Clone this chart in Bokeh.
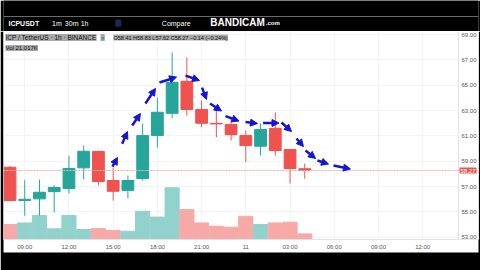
from bokeh.plotting import figure
from bokeh.layouts import column
from bokeh.models import (ColumnDataSource, Range1d, FixedTicker, NumeralTickFormatter,
                          Label, Span, Arrow, NormalHead)
from bokeh.core.properties import value
from bokeh.embed import file_html
from bokeh.resources import INLINE

# ---- data (hourly candles, ICP/USDT) ----
hours = list(range(21))
opens  = [58.53, 55.90, 56.03, 56.60, 56.85, 58.48, 59.77, 57.48, 56.70, 57.64, 61.03,
          62.79, 65.32, 63.09, 62.00, 61.90, 61.03, 60.19, 61.60, 59.93, 58.41]
highs  = [58.62, 57.50, 57.56, 57.10, 59.45, 60.24, 59.85, 58.50, 57.87, 61.98, 64.03,
          67.59, 67.20, 63.80, 63.00, 62.37, 61.43, 61.98, 62.87, 59.93, 58.83]
lows   = [55.85, 54.70, 54.71, 54.95, 56.45, 57.56, 57.10, 55.90, 56.06, 57.48, 60.09,
          62.38, 62.60, 61.69, 60.90, 60.64, 58.92, 59.45, 59.45, 57.24, 57.62]
closes = [55.90, 56.00, 56.55, 56.93, 58.43, 59.79, 57.40, 56.63, 57.48, 61.03, 62.87,
          65.24, 63.09, 62.00, 61.95, 61.10, 60.24, 61.50, 59.85, 58.43, 58.27]
volumes_k = [56, 62, 90, 40, 90, 37.5, 41, 34, 31, 106, 84, 194, 112, 62, 50, 46,
             87, 56, 62, 65, 21.017]

time_ticks = [1, 4, 7, 10, 13, 16, 19, 22, 25, 28]
time_labels = ["09:00", "12:00", "15:00", "18:00", "21:00", "11", "03:00", "06:00", "09:00", "12:00"]
price_ticks = [53, 55, 57, 59, 61, 63, 65, 67, 69]
last_price = 58.27

# toolbar texts of the screenshot header
toolbar_texts = ["ICPUSDT", "1m", "30m", "1h", "Compare", "BANDICAM", ".com"]

# annotation path (hand-drawn arrows): (x_start, y_start, x_end, y_end)
arrow_x0 = [6.95, 7.61, 8.29, 9.19, 10.14, 11.91, 13.03, 13.57, 14.62, 15.98, 17.17, 18.42, 19.44, 20.05, 20.86, 21.95]
arrow_y0 = [58.58, 60.38, 61.82, 63.56, 65.22, 65.77, 64.82, 63.56, 62.57, 62.10, 62.02, 62.06, 60.80, 59.85, 59.06, 58.66]
arrow_x1 = [7.29, 7.97, 8.85, 9.87, 11.30, 12.86, 13.33, 14.35, 15.54, 16.79, 18.25, 19.10, 19.91, 20.73, 21.61, 23.10]
arrow_y1 = [59.30, 61.35, 62.77, 64.75, 65.65, 65.38, 63.88, 62.97, 62.18, 61.98, 62.02, 61.35, 60.16, 59.22, 58.78, 58.39]

UP, DOWN = "#26a69a", "#ef5350"
UP_V, DOWN_V = "#92d2cc", "#f7a9a7"
FONT = "Liberation Sans"

# ---------------- header bar ----------------
top = figure(width=480, height=31, output_backend="svg", toolbar_location=None,
             x_range=Range1d(0, 480), y_range=Range1d(31, 0),
             x_axis_type=None, y_axis_type=None,
             min_border=0, min_border_left=0, min_border_right=0,
             min_border_top=0, min_border_bottom=0)
top.border_fill_color = "black"
top.background_fill_color = "black"
top.outline_line_color = None
top.grid.visible = False
top.hspan(y=[16], line_color="#6a6a6a", line_width=1)
tsrc = ColumnDataSource(dict(
    x=[5, 49, 62, 78, 160, 209, 265],
    y=[22.5, 22.5, 22.5, 22.5, 22.5, 21.5, 22.5],
    text=toolbar_texts,
    size=["7px", "7px", "7px", "7px", "7px", "10px", "6px"],
    style=["bold", "normal", "normal", "normal", "normal", "bold", "bold"],
))
top.text(x="x", y="y", text="text", source=tsrc, text_color="white",
         text_font=value(FONT), text_font_size="size", text_font_style="style",
         text_baseline="middle", text_align="left")
top.rect(x=[116], y=[22.5], width=[6], height=[7], fill_color="#1c2a5a", line_color=None)

# ---------------- main chart ----------------
up = [c >= o for o, c in zip(opens, closes)]
src = ColumnDataSource(dict(
    x=hours, open=opens, high=highs, low=lows, close=closes,
    top=[max(o, c) for o, c in zip(opens, closes)],
    bottom=[min(o, c) for o, c in zip(opens, closes)],
    vol=volumes_k,
    color=[UP if u else DOWN for u in up],
    vcolor=[UP_V if u else DOWN_V for u in up],
))

PXU = 14.739            # pixels per hour
X0 = -0.441             # left edge of the plot area
X_AXIS = X0 + 455 / PXU  # where the price scale starts
X1 = X0 + 475 / PXU      # right edge (price scale included)
Y0, Y1 = 52.82, 69.25

p = figure(width=480, height=239, output_backend="svg", toolbar_location=None,
           x_range=Range1d(X0, X1), y_range=Range1d(Y0, Y1),
           y_axis_location="right",
           min_border_top=0, min_border_bottom=31, min_border_left=3, min_border_right=2)
p.border_fill_color = "black"
p.background_fill_color = "white"
p.outline_line_color = None

p.extra_y_ranges = {"vol": Range1d(0, 780)}

# volume
p.vbar(x="x", top="vol", bottom=0, width=0.96, color="vcolor", source=src, y_range_name="vol")
# candles
p.segment(x0="x", y0="low", x1="x", y1="high", color="color", line_width=1, source=src)
p.vbar(x="x", top="top", bottom="bottom", width=0.8, fill_color="color", line_color="color", source=src)

# last price line
p.add_layout(Span(location=last_price, dimension="width", line_color="#e9b3b3",
                  line_width=1, line_dash="2 1"))

# axes
ax = p.xaxis[0]
ax.ticker = FixedTicker(ticks=time_ticks)
ax.major_label_overrides = {t: l for t, l in zip(time_ticks, time_labels)}
ay = p.yaxis[0]
ay.ticker = FixedTicker(ticks=price_ticks)
ay.formatter = NumeralTickFormatter(format="0.00")
ay.fixed_location = X_AXIS
for a in (ax, ay):
    a.major_label_text_font_size = "6px"
    a.major_label_text_color = "#555555"
    a.major_label_text_font = FONT
    a.major_tick_line_color = None
    a.minor_tick_line_color = None
    a.major_tick_out = 0
    a.major_tick_in = 0
    a.axis_line_color = "#e3e3e3"
    a.background_fill_color = "white"
ax.major_label_standoff = 4
ay.major_label_standoff = 3

p.xgrid.ticker = FixedTicker(ticks=time_ticks)
p.ygrid.ticker = FixedTicker(ticks=price_ticks)
p.xgrid.grid_line_color = "#f4f4f4"
p.ygrid.grid_line_color = "#f4f4f4"

# arrows
asrc = ColumnDataSource(dict(x0=arrow_x0, y0=arrow_y0, x1=arrow_x1, y1=arrow_y1))
BLUE = "#1414d2"
p.add_layout(Arrow(end=NormalHead(size=7, fill_color=BLUE, line_color=BLUE),
                   x_start="x0", y_start="y0", x_end="x1", y_end="y1",
                   line_color=BLUE, line_width=2.5, source=asrc))

# legend texts (screen units, relative to the frame)
GRAY = "#a9a9a9"
FH = 208  # frame height

def lab(px, py, text, size, color="#111111", bg=GRAY):
    p.add_layout(Label(x=px - 3, y=FH - (py - 31), x_units="screen", y_units="screen",
                       text=text, text_font_size=size, text_color=color, text_font=FONT,
                       text_baseline="middle", text_align="left", background_fill_color=bg))

lab(5, 37, "ICP / TetherUS · 1h · BINANCE", "6.5px")
lab(100, 37, "●", "7px", color=UP)
lab(113, 37, "O58.41 H58.83 L57.62 C58.27 −0.14 (−0.24%)", "5.5px")
lab(5, 47.5, "Vol 21.017K", "6px")

# last price tag on the price scale
tag_kw = dict(x=X_AXIS + 1.0 / PXU, y=last_price, text=f"{last_price:.2f}", text_font_size="6px",
              text_color="white", text_font=FONT, text_baseline="middle",
              text_align="left", background_fill_color=DOWN)
if "padding" in Label.properties():
    tag_kw["padding"] = 1
p.add_layout(Label(**tag_kw))

layout = column(top, p, spacing=0)
open("out.html", "w").write(file_html(layout, INLINE))
